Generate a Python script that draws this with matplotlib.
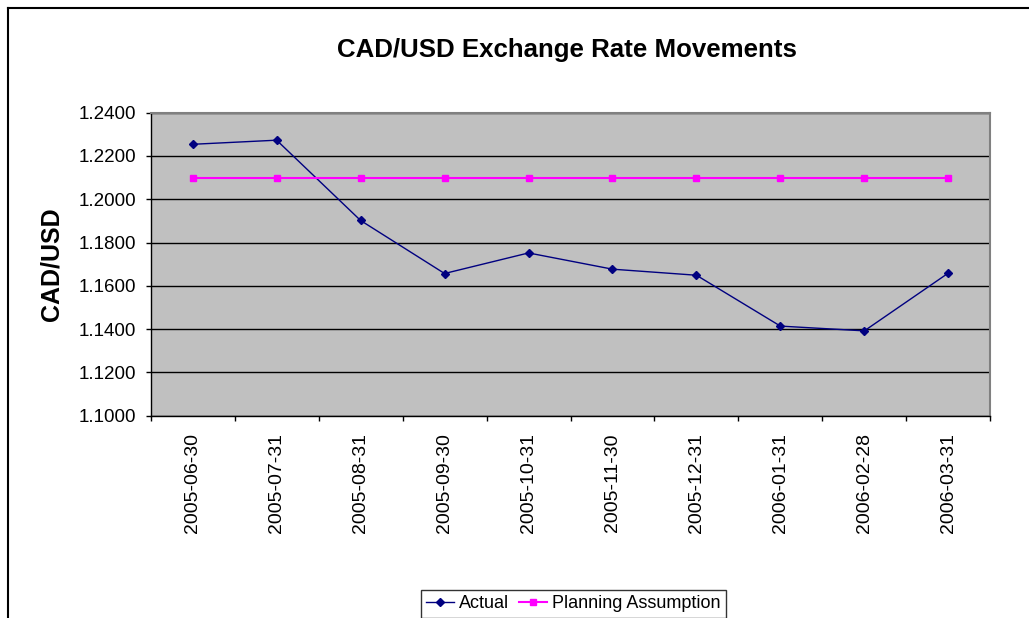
import matplotlib.pyplot as plt
import numpy as np
from matplotlib.lines import Line2D

# данные графика
dates = ['2005-06-30', '2005-07-31', '2005-08-31', '2005-09-30', '2005-10-31',
         '2005-11-30', '2005-12-31', '2006-01-31', '2006-02-28', '2006-03-31']
actual = [1.2254, 1.2273, 1.1902, 1.1657, 1.1752, 1.1677, 1.1649, 1.1414, 1.1392, 1.1659]
planning = [1.2100] * 10
y_ticks = [1.10, 1.12, 1.14, 1.16, 1.18, 1.20, 1.22, 1.24]

W, H = 1029, 618
plt.rcParams['font.family'] = ['Liberation Sans', 'DejaVu Sans']

fig = plt.figure(figsize=(W / 100, H / 100), dpi=100)
ax = fig.add_axes([150.7 / W, 1 - 415.7 / H, (990.3 - 150.7) / W, (415.7 - 112.7) / H])
ax.set_facecolor('#C0C0C0')

x = np.arange(len(dates))
ax.plot(x, actual, color='#000080', linewidth=1.0, marker='D', markersize=4.5,
        label='Actual', zorder=3)
ax.plot(x, planning, color='#FF00FF', linewidth=1.5, marker='s', markersize=5,
        label='Planning Assumption', zorder=3)

ax.set_xlim(-0.5, len(dates) - 0.5)
ax.set_ylim(1.10, 1.24)
ax.set_yticks(y_ticks)
ax.set_yticklabels([f'{v:.4f}' for v in y_ticks], fontsize=13.5)
ax.yaxis.grid(True, color='black', linewidth=1.0)
ax.set_axisbelow(True)
ax.tick_params(axis='y', length=3.6, width=1, pad=7, direction='out')

ax.set_xticks(x)
ax.set_xticklabels(dates, rotation=90, fontsize=14)
ax.set_xticks(np.arange(-0.5, len(dates), 1.0), minor=True)
ax.tick_params(axis='x', which='major', length=0, pad=12.5)
ax.tick_params(axis='x', which='minor', length=3.6, width=1, direction='out')

for side in ['top', 'right']:
    ax.spines[side].set_color('#808080')
    ax.spines[side].set_linewidth(1.5)
for side in ['left', 'bottom']:
    ax.spines[side].set_color('black')
    ax.spines[side].set_linewidth(1.0)

fig.text(566.5 / W, 1 - 56.7 / H, 'CAD/USD Exchange Rate Movements',
         fontsize=18.6, fontweight='bold', ha='center', va='baseline')
fig.text(51 / W, 1 - 264 / H, 'CAD/USD', fontsize=18, fontweight='bold',
         rotation=90, ha='center', va='center')

leg = fig.legend(loc='upper left', bbox_to_anchor=(420.7 / W, 1 - 590 / H),
                 ncol=2, fontsize=13, frameon=True, fancybox=False,
                 edgecolor='black', handlelength=1.55, handletextpad=0.28,
                 columnspacing=0.55, borderpad=0.3, borderaxespad=0)
leg.get_frame().set_linewidth(1.0)

# рамка всей диаграммы
fig.add_artist(Line2D([8 / W, 8 / W], [0, 1 - 7.7 / H], color='black', linewidth=1.5))
fig.add_artist(Line2D([8 / W, 1], [1 - 7.7 / H, 1 - 7.7 / H], color='black', linewidth=1.5))

fig.savefig('out.png', dpi=100)
